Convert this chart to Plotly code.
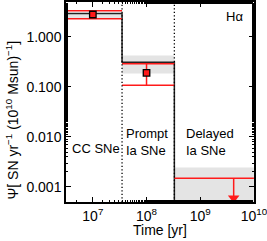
import plotly.graph_objects as go

# bin edges [yr]
bin_edges = [10**6.5, 3.5e7, 3.3e8, 1e10]
# model band (grey) per bin
band_low = [2.39, 0.186, 1e-4]
band_high = [2.95, 0.425, 0.00244]
# black step (model) per bin
model_step = [2.95, 0.313, 1e-4]
# measured rates
point_x = [1e7, 1e8]
point_val = [2.81, 0.192]
point_hi = [3.33, 0.29]
point_lo = [2.31, 0.108]
# delayed upper limit
limit_x = 4.2e9
limit_val = 0.0015
limit_tip = 6.0e-4
bin_labels = ["CC SNe", "Prompt<br>Ia SNe", "Delayed<br>Ia SNe"]
x_ticks = [1e7, 1e8, 1e9, 1e10]
x_ticktext = ["10<sup>7</sup>", "10<sup>8</sup>", "10<sup>9</sup>", "10<sup>10</sup>"]
y_ticks = [0.001, 0.01, 0.1, 1.0]
y_ticktext = ["0.001", "0.010", "0.100", "1.000"]

RED = "#ff1a1a"
GREY = "#e4e4e4"
FONT = "Liberation Sans"

fig = go.Figure()

# grey bands
for i in range(3):
    x0, x1 = bin_edges[i], bin_edges[i + 1]
    fig.add_trace(go.Scatter(
        x=[x0, x1, x1, x0, x0],
        y=[band_low[i], band_low[i], band_high[i], band_high[i], band_low[i]],
        fill="toself", fillcolor=GREY, line=dict(width=0),
        mode="lines", hoverinfo="skip", showlegend=False))

# dotted bin separators
for e in bin_edges[1:3]:
    fig.add_shape(type="line", xref="x", yref="y domain", x0=e, x1=e, y0=0, y1=1,
                  line=dict(color="black", width=1.3, dash="1.3px,2.2px"))

# black model step
fig.add_trace(go.Scatter(
    x=bin_edges, y=model_step + [model_step[-1]], mode="lines",
    line=dict(color="#222222", width=1.5, shape="hv"),
    hoverinfo="skip", showlegend=False))

# red horizontal bounds
for i in range(2):
    x0, x1 = bin_edges[i], bin_edges[i + 1]
    for v in (point_hi[i], point_lo[i]):
        fig.add_trace(go.Scatter(x=[x0, x1], y=[v, v], mode="lines",
                                 line=dict(color=RED, width=1.5),
                                 hoverinfo="skip", showlegend=False))
fig.add_trace(go.Scatter(x=[bin_edges[2], bin_edges[3]], y=[limit_val, limit_val],
                         mode="lines", line=dict(color=RED, width=1.5),
                         hoverinfo="skip", showlegend=False))

# error bars
for i in range(2):
    fig.add_trace(go.Scatter(x=[point_x[i], point_x[i]], y=[point_lo[i], point_hi[i]],
                             mode="lines", line=dict(color=RED, width=1.5),
                             hoverinfo="skip", showlegend=False))

# upper limit arrow
fig.add_trace(go.Scatter(x=[limit_x, limit_x], y=[limit_val, limit_tip], mode="lines",
                         line=dict(color=RED, width=1.5), hoverinfo="skip", showlegend=False))
fig.add_trace(go.Scatter(x=[limit_x], y=[limit_tip], mode="markers",
                         marker=dict(symbol="triangle-down", size=10, color=RED),
                         hoverinfo="skip", showlegend=False))

# points
fig.add_trace(go.Scatter(x=point_x, y=point_val, mode="markers",
                         marker=dict(symbol="square", size=6.5, color=RED,
                                     line=dict(color="black", width=1.3)),
                         showlegend=False))

# labels
label_pos = [(0.02, 0.27), (0.31, 0.30), (0.628, 0.30)]
for (px, py), t in zip(label_pos, bin_labels):
    fig.add_annotation(text=t, xref="paper", yref="paper", x=px, y=py,
                       xanchor="left", yanchor="middle", showarrow=False, align="left",
                       font=dict(family=FONT, size=13, color="black"))
fig.add_annotation(text="Hα", xref="paper", yref="paper", x=0.95, y=0.925,
                   xanchor="right", yanchor="middle", showarrow=False,
                   font=dict(family=FONT, size=13, color="black"))

# axis titles
fig.add_annotation(text="Time [yr]", xref="paper", yref="paper", x=0.5, y=-0.14,
                   xanchor="center", yanchor="middle", showarrow=False,
                   font=dict(family=FONT, size=14, color="black"))
fig.add_annotation(text="Ψ[ SN yr<sup>−1</sup> (10<sup>10</sup> Msun)<sup>−1</sup>]",
                   xref="paper", yref="paper", x=-0.285, y=0.41, textangle=-90,
                   xanchor="center", yanchor="middle", showarrow=False,
                   font=dict(family=FONT, size=14, color="black"))

axis_common = dict(showline=True, linecolor="black", linewidth=1.5, mirror="allticks",
                   ticks="inside", ticklen=5, tickwidth=1, tickcolor="black",
                   showgrid=False, zeroline=False, automargin=False,
                   ticklabeloverflow="allow",
                   minor=dict(ticks="inside", ticklen=2.5, tickwidth=1, tickcolor="black",
                              showgrid=False),
                   tickfont=dict(family=FONT, size=14, color="black"))

fig.update_xaxes(type="log", range=[6.5, 10.002], tickvals=x_ticks, ticktext=x_ticktext,
                 **axis_common)
fig.update_yaxes(type="log", range=[-3.301, 0.699], tickvals=y_ticks, ticktext=y_ticktext,
                 **axis_common)

fig.update_layout(width=267, height=241, margin=dict(l=66, r=13, t=2, b=39),
                  plot_bgcolor="white", paper_bgcolor="white",
                  font=dict(family=FONT, color="black"))

fig.write_html("out.html", config={"displayModeBar": False},
               post_script="document.body.style.margin='0';document.body.style.overflow='hidden';")
